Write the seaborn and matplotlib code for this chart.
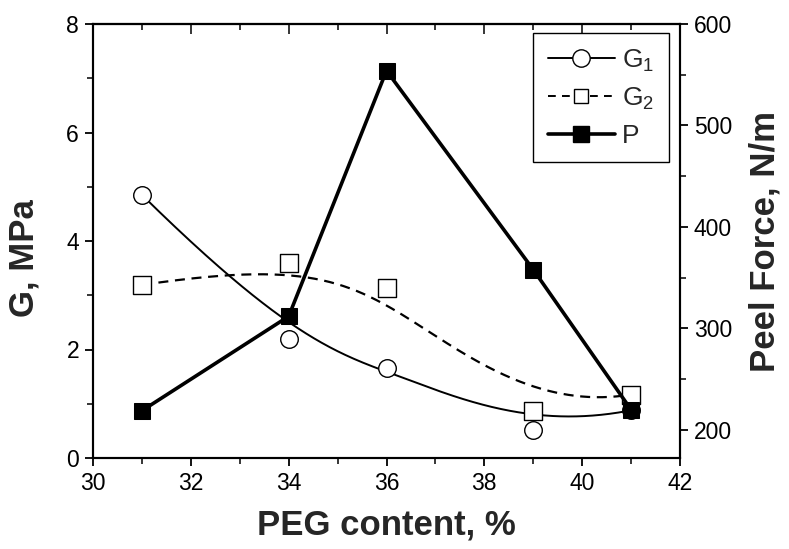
import numpy as np
import pandas as pd
import matplotlib
matplotlib.use("Agg")
import matplotlib.pyplot as plt
import seaborn as sns
from matplotlib.lines import Line2D
from matplotlib.ticker import MultipleLocator

# PEG content (%) and measured properties
peg = [31, 34, 36, 39, 41]
g1 = [4.85, 2.19, 1.66, 0.52, 0.88]       # G1, MPa
g2 = [3.19, 3.59, 3.13, 0.87, 1.17]       # G2, MPa
peel = [219, 312, 554, 358, 220]          # peel force, N/m

x_ticks = [30, 32, 34, 36, 38, 40, 42]
g_ticks = [0, 2, 4, 6, 8]
p_ticks = [200, 300, 400, 500, 600]


def bspline(xs, ys, n=400):
    """Clamped cubic B-spline using the measured points as control polygon."""
    pts = np.column_stack([xs, ys]).astype(float)
    k = 3
    m = len(pts)
    knots = np.concatenate([[0.0] * k, np.linspace(0, 1, m - k + 1), [1.0] * k])
    t = np.linspace(0, 1, n)
    t[-1] = 1 - 1e-12

    def basis(i, p):
        if p == 0:
            return np.where((knots[i] <= t) & (t < knots[i + 1]), 1.0, 0.0)
        a = 0.0
        b = 0.0
        d1 = knots[i + p] - knots[i]
        d2 = knots[i + p + 1] - knots[i + 1]
        if d1 > 0:
            a = (t - knots[i]) / d1 * basis(i, p - 1)
        if d2 > 0:
            b = (knots[i + p + 1] - t) / d2 * basis(i + 1, p - 1)
        return a + b

    N = np.array([basis(i, k) for i in range(m)])
    c = N.T @ pts
    return c[:, 0], c[:, 1]


sns.set_theme(style="ticks")
plt.rcParams["font.family"] = ["Liberation Sans", "DejaVu Sans"]
plt.rcParams["mathtext.default"] = "regular"

df = pd.DataFrame({"peg": peg, "G1": g1, "G2": g2, "P": peel})
sx1, sy1 = bspline(peg, g1)
sx2, sy2 = bspline(peg, g2)
s1 = pd.DataFrame({"x": sx1, "y": sy1})
s2 = pd.DataFrame({"x": sx2, "y": sy2})

fig = plt.figure(figsize=(7.89, 5.49), dpi=100)
ax = fig.add_axes([93 / 789, 91 / 549, 587 / 789, 434 / 549])
ax2 = ax.twinx()

# smoothed G curves on the left axis
sns.lineplot(data=s1, x="x", y="y", ax=ax, color="black", lw=1.4, sort=False)
sns.lineplot(data=s2, x="x", y="y", ax=ax, color="black", lw=1.6, sort=False,
             dashes=False, linestyle=(0, (4.5, 3)))
sns.scatterplot(data=df, x="peg", y="G1", ax=ax, marker="o", s=160,
                facecolor="white", edgecolor="black", linewidth=1.0, zorder=5)
sns.scatterplot(data=df, x="peg", y="G2", ax=ax, marker="s", s=150,
                facecolor="white", edgecolor="black", linewidth=1.0, zorder=5)

# peel force on the right axis
sns.lineplot(data=df, x="peg", y="P", ax=ax2, color="black", lw=2.6,
             marker="s", markersize=11.5, markerfacecolor="black",
             markeredgecolor="black")

ax.set_xlim(30, 42)
ax.set_ylim(0, 8)
ax2.set_ylim(172.4, 600)
ax.set_xticks(x_ticks)
ax.set_yticks(g_ticks)
ax2.set_yticks(p_ticks)
ax.xaxis.set_minor_locator(MultipleLocator(1))
ax.yaxis.set_minor_locator(MultipleLocator(1))
ax2.yaxis.set_minor_locator(MultipleLocator(50))

tick_fs = 16.5
label_fs = 25
ax.tick_params(axis="both", which="major", direction="out", length=6, width=1.3,
               labelsize=tick_fs, colors="black", pad=4)
ax.tick_params(axis="both", which="minor", direction="out", length=4, width=1.3)
ax2.tick_params(axis="y", which="major", direction="out", length=6, width=1.3,
                labelsize=tick_fs, colors="black", pad=4)
ax2.tick_params(axis="y", which="minor", direction="out", length=4, width=1.3)

# inward ticks along the top edge
top = ax.secondary_xaxis("top")
top.set_xticks(x_ticks)
top.xaxis.set_minor_locator(MultipleLocator(1))
top.tick_params(which="major", direction="in", length=7, width=1.3, labeltop=False)
top.tick_params(which="minor", direction="in", length=4, width=1.3)
ax.tick_params(axis="x", which="both", top=False)

for a in (ax, ax2):
    for sp in a.spines.values():
        sp.set_visible(True)
        sp.set_linewidth(1.5)
        sp.set_color("black")
top.spines["top"].set_linewidth(1.5)

ax.set_xlabel("PEG content, %", fontsize=label_fs, fontweight="bold", labelpad=10)
ax.set_ylabel("G, MPa", fontsize=label_fs, fontweight="bold")
ax.yaxis.set_label_coords(-0.09, 0.46)
ax2.set_ylabel("Peel Force, N/m", fontsize=label_fs, fontweight="bold", labelpad=12)

handles = [
    Line2D([], [], color="black", lw=1.4, marker="o", markersize=12.5,
           markerfacecolor="white", markeredgecolor="black", label="G$_1$"),
    Line2D([], [], color="black", lw=1.4, linestyle=(0, (4, 3.2)), marker="s",
           markersize=10, markerfacecolor="white", markeredgecolor="black",
           label="G$_2$"),
    Line2D([], [], color="black", lw=2.6, marker="s", markersize=11,
           markerfacecolor="black", markeredgecolor="black", label="P"),
]
if ax.get_legend() is not None:
    ax.get_legend().remove()
if ax2.get_legend() is not None:
    ax2.get_legend().remove()
leg = ax2.legend(handles=handles, loc="upper right", bbox_to_anchor=(0.981, 0.979),
                 borderaxespad=0, fontsize=19, handlelength=2.55,
                 handletextpad=0.27, labelspacing=0.45, borderpad=0.55,
                 fancybox=False, frameon=True, edgecolor="black")
leg.get_frame().set_linewidth(1.0)
leg.get_frame().set_alpha(1)

fig.savefig("out.png", dpi=100)
